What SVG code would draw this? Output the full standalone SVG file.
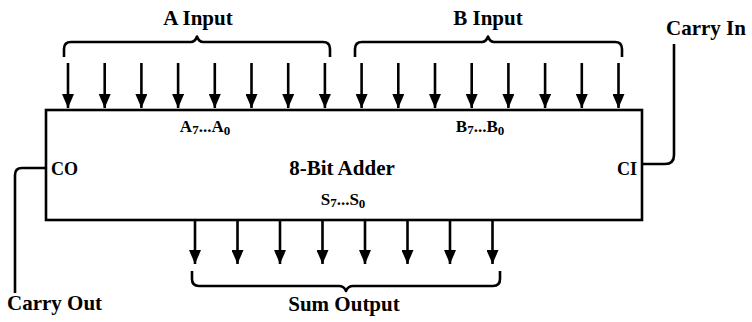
<svg xmlns="http://www.w3.org/2000/svg" width="752" height="322" viewBox="0 0 752 322">
<defs>
<style>
.t{font-family:"Liberation Serif","DejaVu Serif",serif;font-weight:bold;fill:#000}
.big{font-size:21px}
.mid{font-size:18px}
.sml{font-size:17px}
.sub{font-size:13px}
.ln{fill:none;stroke:#000;stroke-width:2.6;stroke-linecap:butt}
.br{fill:none;stroke:#000;stroke-width:2.6;stroke-linejoin:round}
</style>
<marker id="ah" viewBox="0 0 14 12" refX="14" refY="6" markerWidth="14" markerHeight="12" markerUnits="userSpaceOnUse" orient="auto">
<path d="M0,0 L14,6 L0,12 Z" fill="#000"/>
</marker>
</defs>
<rect width="752" height="322" fill="#fff"/>

<g id="adder">
<rect x="46" y="110" width="596" height="110" fill="#fff" stroke="#000" stroke-width="2.6"/>
<text class="t sml" x="205" y="132" text-anchor="middle">A<tspan class="sub" dy="2">7</tspan><tspan dy="-2">...A</tspan><tspan class="sub" dy="3">0</tspan></text>
<text class="t sml" x="480" y="132" text-anchor="middle">B<tspan class="sub" dy="2">7</tspan><tspan dy="-2">...B</tspan><tspan class="sub" dy="3">0</tspan></text>
<text class="t big" x="342" y="175" text-anchor="middle">8-Bit Adder</text>
<text class="t sml" x="343" y="205" text-anchor="middle">S<tspan class="sub" dy="2">7</tspan><tspan dy="-2">...S</tspan><tspan class="sub" dy="3">0</tspan></text>
<text class="t mid" x="51" y="175">CO</text>
<text class="t mid" x="637" y="175" text-anchor="end">CI</text>
</g>

<g id="a-input">
<text class="t big" x="198" y="25" text-anchor="middle">A Input</text>
<path class="br" d="M64,57 V49 Q64,42 71,42 H191 Q195,42 197,36.5 Q199,42 203,42 H323 Q330,42 330,49 V57"/>
</g>

<g id="b-input">
<text class="t big" x="488" y="25" text-anchor="middle">B Input</text>
<path class="br" d="M355,57 V49 Q355,42 362,42 H482 Q486,42 488,36.5 Q490,42 494,42 H615 Q622,42 622,49 V57"/>
</g>

<g id="carry-in">
<text class="t big" x="666" y="35">Carry In</text>
</g>

<g id="carry-out">
<text class="t big" x="7" y="310">Carry Out</text>
</g>

<g id="sum-output">
<path class="br" d="M192,271 V279 Q192,286 199,286 H339 Q344,286 346,291 Q348,286 353,286 H493 Q500,286 500,279 V271"/>
<text class="t big" x="344" y="311" text-anchor="middle">Sum Output</text>
</g>

<g id="connectors">
<g class="ln" marker-end="url(#ah)">
<path d="M68,63 V108"/>
<path d="M104.7,63 V108"/>
<path d="M141.4,63 V108"/>
<path d="M178.1,63 V108"/>
<path d="M214.8,63 V108"/>
<path d="M251.5,63 V108"/>
<path d="M288.2,63 V108"/>
<path d="M324.9,63 V108"/>
<path d="M361.6,63 V108"/>
<path d="M398.3,63 V108"/>
<path d="M435,63 V108"/>
<path d="M471.7,63 V108"/>
<path d="M508.4,63 V108"/>
<path d="M545.1,63 V108"/>
<path d="M581.8,63 V108"/>
<path d="M618.5,63 V108"/>
<path d="M195,221 V264"/>
<path d="M237.5,221 V264"/>
<path d="M280,221 V264"/>
<path d="M322.5,221 V264"/>
<path d="M365,221 V264"/>
<path d="M407.5,221 V264"/>
<path d="M450,221 V264"/>
<path d="M492.5,221 V264"/>
</g>
<path class="ln" d="M643,164 H665 Q674,164 674,155 V44"/>
<path class="ln" d="M45,168 H22 Q15,168 15,175 V293"/>
</g>
</svg>
